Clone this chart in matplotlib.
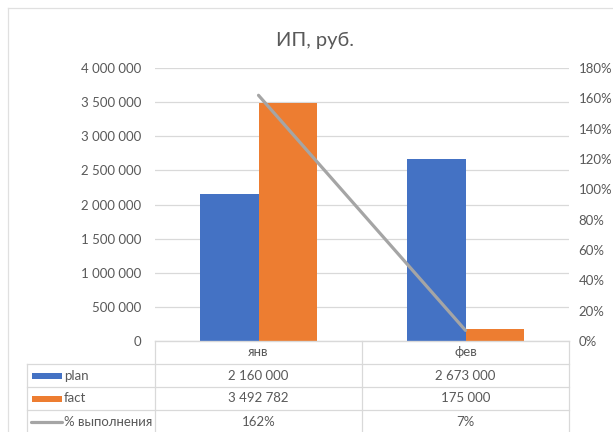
import matplotlib.pyplot as plt
from matplotlib.lines import Line2D
from matplotlib.patches import Rectangle
import matplotlib.ticker as mticker

# --- данные ---
categories = ['янв', 'фев']
plan = [2160000, 2673000]
fact = [3492782, 175000]
pct = [1.62, 0.07]
series_names = ['plan', 'fact', '% выполнения']

# --- стиль ---
C_PLAN = '#4472C4'
C_FACT = '#ED7D31'
C_PCT = '#A5A5A5'
C_GRID = '#D9D9D9'
C_TEXT = '#595959'
plt.rcParams['font.family'] = ['Lato', 'Noto Sans', 'DejaVu Sans']

W, H = 613, 432
fig = plt.figure(figsize=(W / 100, H / 100), dpi=100)


def fx(x):
    return x / W


def fy(y):
    return 1 - y / H


# область построения (в пикселях)
L, R, T, B = 155, 569, 68, 341
ax = fig.add_axes([fx(L), fy(B), fx(R) - fx(L), fy(T) - fy(B)])
ax2 = ax.twinx()

x = list(range(len(categories)))
bw = 0.285
ax.bar([i - bw / 2 for i in x], plan, width=bw, color=C_PLAN, zorder=2)
ax.bar([i + bw / 2 for i in x], fact, width=bw, color=C_FACT, zorder=2)
ax2.plot(x, pct, color=C_PCT, linewidth=2.3, solid_capstyle='round', zorder=3)

ax.set_xlim(-0.5, len(categories) - 0.5)
ax.set_ylim(0, 4000000)
ax.yaxis.set_major_locator(mticker.MultipleLocator(500000))
ax.yaxis.set_major_formatter(mticker.FuncFormatter(lambda v, p: f'{int(v):,}'.replace(',', ' ')))
ax2.set_ylim(0, 1.8)
ax2.yaxis.set_major_locator(mticker.MultipleLocator(0.2))
ax2.yaxis.set_major_formatter(mticker.FuncFormatter(lambda v, p: f'{round(v * 100)}%'))

ax.grid(axis='y', color=C_GRID, linewidth=0.9, zorder=0)
ax.set_axisbelow(True)
for a in (ax, ax2):
    for s in a.spines.values():
        s.set_visible(False)
    a.tick_params(length=0, colors=C_TEXT, labelsize=9.5)
ax.tick_params(axis='y', pad=10)
ax2.tick_params(axis='y', pad=7)
ax.set_xticks([])
ax.spines['bottom'].set_visible(True)
ax.spines['bottom'].set_color(C_GRID)

fig.text(fx(315), fy(40), 'ИП, руб.', ha='center', va='center', fontsize=14.5, color=C_TEXT)

# --- таблица данных ---
def hline(y, x0, x1, color=C_GRID):
    fig.add_artist(Line2D([fx(x0), fx(x1)], [fy(y), fy(y)], color=color, linewidth=0.9))


def vline(x0, y0, y1, color=C_GRID):
    fig.add_artist(Line2D([fx(x0), fx(x0)], [fy(y0), fy(y1)], color=color, linewidth=0.9))


TL = 27
rows_y = [341, 364, 387, 410, 433]
col_x = [L + (R - L) * k / len(categories) for k in range(len(categories) + 1)]

hline(rows_y[0], L, R)
for y in rows_y[1:]:
    hline(y, TL, R)
vline(TL, rows_y[1], H)
for xc in col_x:
    vline(xc, rows_y[0], H)

tfs = 9.5
for k, cat in enumerate(categories):
    cx = (col_x[k] + col_x[k + 1]) / 2
    fig.text(fx(cx), fy((rows_y[0] + rows_y[1]) / 2), cat, ha='center', va='center',
             fontsize=tfs, color=C_TEXT)

fmt = lambda v: f'{v:,}'.replace(',', ' ')
table_rows = [
    [fmt(v) for v in plan],
    [fmt(v) for v in fact],
    [f'{round(v * 100)}%' for v in pct],
]
for r, vals in enumerate(table_rows):
    ym = (rows_y[r + 1] + rows_y[r + 2]) / 2
    for k, v in enumerate(vals):
        cx = (col_x[k] + col_x[k + 1]) / 2
        fig.text(fx(cx), fy(ym), v, ha='center', va='center', fontsize=tfs, color=C_TEXT)

# подписи рядов с ключами легенды
key_colors = [C_PLAN, C_FACT]
for r, name in enumerate(series_names):
    ym = (rows_y[r + 1] + rows_y[r + 2]) / 2
    if r < 2:
        fig.add_artist(Rectangle((fx(32), fy(ym + 3)), fx(62) - fx(32), fy(ym - 3) - fy(ym + 3),
                                 facecolor=key_colors[r], edgecolor='none'))
    else:
        fig.add_artist(Line2D([fx(31), fx(62)], [fy(ym), fy(ym)], color=C_PCT, linewidth=2.3,
                              solid_capstyle='round'))
    fig.text(fx(64), fy(ym), name, ha='left', va='center', fontsize=tfs, color=C_TEXT)

# рамка диаграммы
hline(8, 8, W, '#E0E0E0')
vline(8, 8, H, '#E0E0E0')

fig.savefig('out.png', dpi=100)
